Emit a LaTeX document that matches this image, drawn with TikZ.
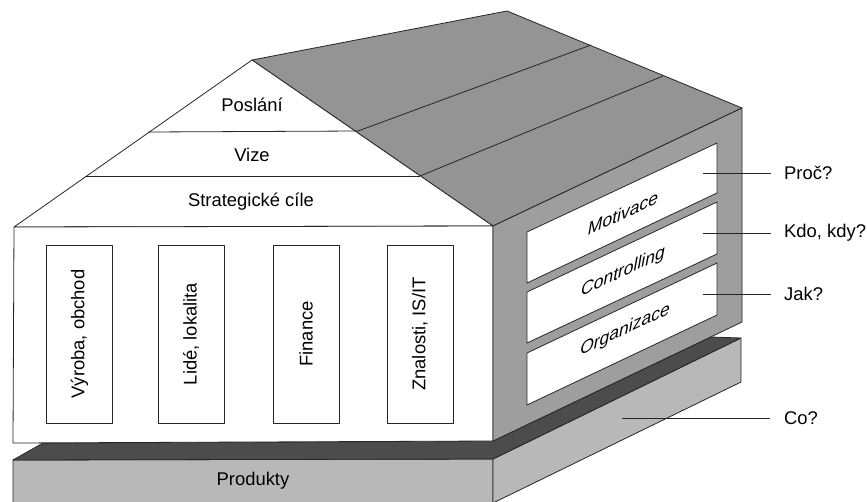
\documentclass[tikz,border=0pt]{standalone}
\usepackage{fontspec}
\setmainfont{Liberation Sans}
\definecolor{roofgray}{gray}{0.58}
\definecolor{wallgray}{gray}{0.62}
\definecolor{darkgray}{gray}{0.3}
\definecolor{basegray}{gray}{0.72}
\begin{document}
\begin{tikzpicture}[x=1pt,y=-1pt,line join=round,
	edge/.style={draw=black!85,line width=0.8pt},
	txt/.style={font=\fontsize{18.4}{22}\selectfont,inner sep=0pt},
	slant/.style={font=\fontsize{17.5}{22}\selectfont\itshape,inner sep=0pt,yslant=0.47,transform shape},
	pillar/.style={edge,fill=white,font=\fontsize{18.4}{22}\selectfont,rotate=90,minimum width=178pt,minimum height=66pt,inner sep=0pt},
	leader/.style={draw=black!85,line width=0.7pt}]
	\useasboundingbox (0,0) rectangle (867,501);
	% corners of the house
	\coordinate (apex) at (252,60);
	\coordinate (back) at (507,11);
	\coordinate (rt) at (742,108);
	\coordinate (ft) at (493,226);
	\coordinate (lt) at (14,227);
	\coordinate (lb) at (13,443);
	\coordinate (fb) at (493,441);
	\coordinate (rb) at (742,322);
	% base
	\path[edge,fill=basegray] (13,460) -- (493,459) -- (493,503) -- (13,503) -- cycle;
	\path[edge,fill=basegray] (493,459) -- (741,338) -- (741,382) -- (493,503) -- cycle;
	\path[edge,fill=darkgray] (13,460) -- (43,443) -- (fb) -- (711,337) -- (741,338) -- (493,459) -- cycle;
	% roof
	\path[edge,fill=roofgray] (apex) -- (back) -- (rt) -- (ft) -- cycle;
	\draw[edge] (358,131) -- (591,45);
	\draw[edge] (420,176) -- (663,76);
	\path[edge,fill=white] (lt) -- (apex) -- (ft) -- cycle;
	\draw[edge] (148,132) -- (358,131);
	\draw[edge] (85,176) -- (420,176);
	% walls
	\path[edge,fill=white] (lt) -- (ft) -- (fb) -- (lb) -- cycle;
	\path[edge,fill=wallgray] (ft) -- (rt) -- (rb) -- (fb) -- cycle;
	\path[edge,fill=white] (527,232) -- (717,143) -- (717,193) -- (527,283) -- cycle;
	\path[edge,fill=white] (527,292) -- (717,202) -- (717,254) -- (527,343) -- cycle;
	\path[edge,fill=white] (527,353) -- (717,263) -- (717,315) -- (527,405) -- cycle;
	% texts
	\node[txt] (poslani) at (252,105) {Poslání};
	\node[txt] (vize) at (252,155) {Vize};
	\node[txt] (cile) at (251,202) {Strategické cíle};
	\node[pillar] (vyroba) at (79.5,334) {Výroba, obchod};
	\node[pillar] (lide) at (191,334) {Lidé, lokalita};
	\node[pillar] (finance) at (306,334) {Finance};
	\node[pillar] (znalosti) at (420,334) {Znalosti, IS/IT};
	\node[txt] (produkty) at (253,481) {Produkty};
	\node[slant] (motivace) at (623,213) {Motivace};
	\node[slant] (controlling) at (623,272) {Controlling};
	\node[slant] (organizace) at (625,330) {Organizace};
	\node[txt,anchor=west] (proc) at (784,173) {Proč?};
	\node[txt,anchor=west] (kdo) at (784,233) {Kdo, kdy?};
	\node[txt,anchor=west] (jak) at (784,294) {Jak?};
	\node[txt,anchor=west] (co) at (784,418) {Co?};
	\coordinate (procend) at (703,173);
	\coordinate (kdoend) at (703,233);
	\coordinate (jakend) at (703,294);
	\coordinate (coend) at (622,418);
	\draw[leader] (procend) -- ([xshift=-13pt]proc.west);
	\draw[leader] (kdoend) -- ([xshift=-13pt]kdo.west);
	\draw[leader] (jakend) -- ([xshift=-13pt]jak.west);
	\draw[leader] (coend) -- ([xshift=-14pt]co.west);
\end{tikzpicture}
\end{document}
